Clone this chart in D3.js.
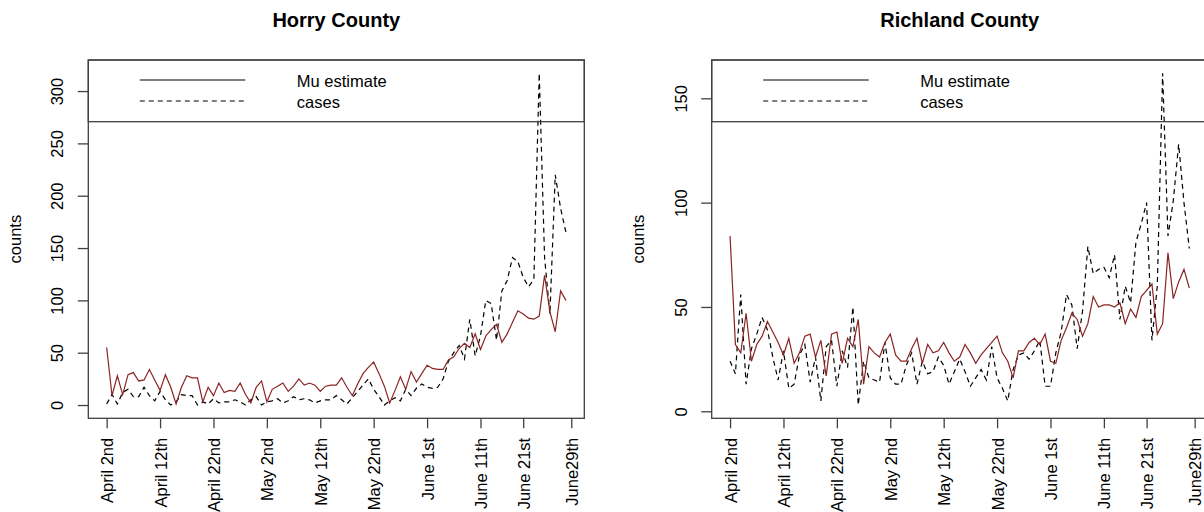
<!DOCTYPE html>
<html>
<head>
<meta charset="utf-8">
<script src="https://cdn.jsdelivr.net/npm/d3@7"></script>
<style>
  body { margin: 0; background: #fff; }
  svg { display: block; font-family: "Liberation Sans", Arial, sans-serif; }
</style>
</head>
<body>
<svg id="chart" width="1204" height="512"></svg>
<script>
// x tick positions (day index) and labels
const tickIdx = [0, 10, 20, 30, 40, 50, 60, 70, 78, 87];
const tickLabels = ["April 2nd", "April 12th", "April 22nd", "May 2nd", "May 12th",
  "May 22nd", "June 1st", "June 11th", "June 21st", "June29th"];

// Horry County
const horryMu = [55, 9, 28, 10, 29, 31, 23, 24, 34, 24, 14, 29, 17, 1, 17, 28, 26, 26, 3, 17,
  9, 21, 12, 14, 13, 21, 10, 2, 17, 23, 3, 15, 18, 21, 13, 18, 25, 19, 21, 19,
  13, 18, 19, 19, 26, 17, 9, 20, 30, 36, 41, 30, 18, 2, 14, 27, 15, 32, 22, 30,
  38, 35, 34, 34, 43, 46, 54, 59, 55, 68, 53, 66, 72, 77, 60, 68, 79, 90, 87, 83,
  82, 85, 124, 89, 70, 109, 100];
const horryCases = [1, 10, 1, 12, 15, 8, 8, 17, 9, 4, 13, 5, 0, 3, 10, 9, 9, 0, 3, 1,
  6, 2, 3, 3, 5, 3, 0, 5, 8, 0, 3, 4, 6, 2, 4, 8, 5, 6, 5, 2,
  4, 5, 5, 9, 5, 1, 7, 13, 19, 25, 15, 8, 0, 4, 7, 4, 15, 9, 16, 20,
  17, 16, 17, 25, 42, 50, 57, 44, 82, 47, 66, 100, 97, 62, 109, 119, 141, 137, 122, 113,
  120, 317, 141, 87, 220, 188, 165];

// Richland County
const richlandMu = [84, 32, 28, 47, 24, 32, 36, 43, 38, 33, 27, 35, 23, 28, 36, 37, 26, 34, 17, 37,
  38, 23, 35, 31, 44, 13, 31, 28, 26, 33, 37, 27, 24, 24, 30, 35, 23, 32, 28, 29,
  33, 28, 24, 26, 32, 28, 23, 27, 30, 33, 36, 28, 24, 16, 29, 29, 33, 35, 32, 37,
  24, 23, 34, 40, 47, 44, 36, 42, 55, 50, 51, 51, 50, 52, 42, 49, 45, 55, 58, 61,
  37, 42, 76, 54, 62, 68, 59];
const richlandCases = [24, 18, 56, 13, 30, 37, 45, 39, 26, 15, 29, 11, 13, 27, 32, 14, 26, 5, 31, 34,
  12, 29, 21, 50, 3, 24, 16, 15, 14, 33, 16, 13, 13, 22, 28, 13, 24, 18, 19, 26,
  22, 13, 19, 25, 19, 12, 16, 20, 15, 31, 16, 11, 5, 20, 27, 28, 25, 29, 34, 12,
  12, 28, 38, 56, 51, 30, 48, 79, 66, 68, 69, 64, 75, 44, 60, 52, 81, 90, 100, 34,
  60, 162, 84, 101, 128, 100, 78];

const horryTicks = [0, 50, 100, 150, 200, 250, 300];
const richlandTicks = [0, 50, 100, 150];

const svg = d3.select("#chart");
const boxTop = 60, boxBottom = 418.3, boxWidth = 496;
const muColor = "#8b2323";
const dash = "5,4";

// R style 4% padding on both ends
const pad = ([a, b]) => { const p = (b - a) * 0.04; return [a - p, b + p]; };

function drawPanel(left, title, mu, cases, yTicks) {
  const g = svg.append("g");
  const x = d3.scaleLinear().domain(pad([0, mu.length - 1])).range([left, left + boxWidth]);
  const y = d3.scaleLinear().domain(pad(d3.extent(mu.concat(cases)))).range([boxBottom, boxTop]);

  // title
  g.append("text")
    .attr("x", left + boxWidth / 2).attr("y", 26.5)
    .attr("text-anchor", "middle")
    .style("font-size", "20px").style("font-weight", "bold")
    .text(title);

  // y label
  g.append("text")
    .attr("transform", `translate(${left - 67.5},${(boxTop + boxBottom) / 2}) rotate(-90)`)
    .attr("text-anchor", "middle")
    .style("font-size", "16.5px")
    .text("counts");

  // lines
  const line = d3.line().x((d, i) => x(i)).y(d => y(d));
  g.append("path").datum(cases)
    .attr("d", line).attr("fill", "none")
    .attr("stroke", "#000").attr("stroke-width", 1.2)
    .attr("stroke-dasharray", dash);
  g.append("path").datum(mu)
    .attr("d", line).attr("fill", "none")
    .attr("stroke", muColor).attr("stroke-width", 1.2);

  // legend box and entries
  g.append("rect")
    .attr("x", left).attr("y", boxTop)
    .attr("width", boxWidth).attr("height", 121.7 - boxTop)
    .attr("fill", "none").attr("stroke", "#404040").attr("stroke-width", 1.3);
  const legend = [{ label: "Mu estimate", y: 80, dash: null }, { label: "cases", y: 101, dash: dash }];
  legend.forEach(d => {
    g.append("line")
      .attr("x1", left + 51.5).attr("x2", left + 157)
      .attr("y1", d.y).attr("y2", d.y)
      .attr("stroke", "#000").attr("stroke-width", 1.2)
      .attr("stroke-dasharray", d.dash);
    g.append("text")
      .attr("x", left + 208.5).attr("y", d.y + 7)
      .style("font-size", "16.5px")
      .text(d.label);
  });

  // plot box
  g.append("rect")
    .attr("x", left).attr("y", boxTop)
    .attr("width", boxWidth).attr("height", boxBottom - boxTop)
    .attr("fill", "none").attr("stroke", "#404040").attr("stroke-width", 1.3);

  // y axis
  const yAxis = g.append("g")
    .attr("transform", `translate(${left},0)`)
    .call(d3.axisLeft(y).tickValues(yTicks).tickSize(10.5).tickPadding(0).tickFormat(d3.format("d")));
  yAxis.select(".domain").remove();
  yAxis.selectAll("line").attr("stroke", "#404040").attr("stroke-width", 1.3);
  yAxis.selectAll("text")
    .attr("x", null).attr("dy", null)
    .attr("text-anchor", "middle")
    .attr("transform", "translate(-25,0) rotate(-90)")
    .attr("fill", "#000")
    .style("font-size", "16.5px")
    .style("font-family", "'Liberation Sans', Arial, sans-serif");

  // x axis
  const xAxis = g.append("g")
    .attr("transform", `translate(0,${boxBottom})`)
    .call(d3.axisBottom(x).tickValues(tickIdx).tickSize(10).tickPadding(0)
      .tickFormat((d, i) => tickLabels[i]));
  xAxis.select(".domain").remove();
  xAxis.selectAll("line").attr("stroke", "#404040").attr("stroke-width", 1.3);
  xAxis.selectAll("text")
    .attr("y", null).attr("dy", null)
    .attr("text-anchor", "end")
    .attr("transform", "translate(6,19.5) rotate(-90)")
    .attr("fill", "#000")
    .style("font-size", "16.5px")
    .style("font-family", "'Liberation Sans', Arial, sans-serif");
}

drawPanel(88.3, "Horry County", horryMu, horryCases, horryTicks);
drawPanel(711.7, "Richland County", richlandMu, richlandCases, richlandTicks);
</script>
</body>
</html>
